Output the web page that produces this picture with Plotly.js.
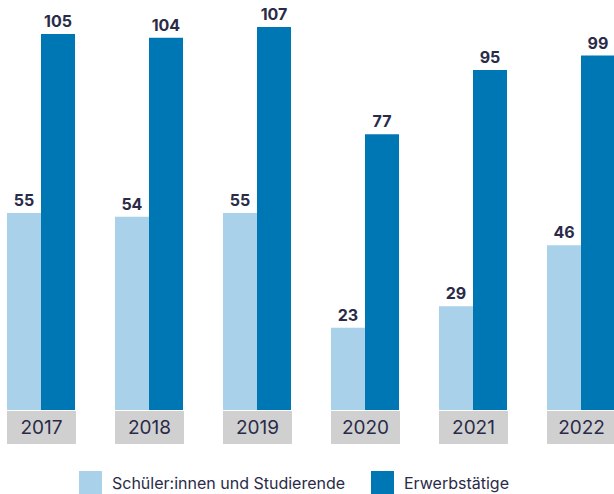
<!DOCTYPE html>
<html>
<head>
<meta charset="utf-8">
<script src="https://cdn.plot.ly/plotly-3.0.1.min.js"></script>
<style>
  html, body { margin: 0; padding: 0; background: #fff; }
  #chart { width: 614px; height: 494px; }
</style>
</head>
<body>
<div id="chart"></div>
<script>
// Data
const years = ['2017', '2018', '2019', '2020', '2021', '2022'];
const students = [55, 54, 55, 23, 29, 46];
const workers = [105, 104, 107, 77, 95, 99];
const seriesNames = ['Schüler:innen und Studierende', 'Erwerbstätige'];

const lightBlue = '#a9d1ea';
const darkBlue = '#0077b5';
const navy = '#2a2b48';
const boxGray = '#d0d0d0';

// plot area is 614 x 410 px, so paper coords are derived from pixels
const W = 614, H = 410;
const px = (x) => x / W;
const py = (y) => (H - y) / H;

function barTrace(name, values, color) {
  return {
    type: 'bar',
    name: name,
    x: years,
    y: values,
    marker: { color: color },
    text: values.map(String),
    textposition: 'outside',
    textfont: { family: 'Inter', size: 16, color: navy, weight: 700 },
    cliponaxis: false,
    hoverinfo: 'skip',
    showlegend: false,
  };
}

// grey year boxes under each group
const yearBoxes = years.map((yr, i) => ({
  x: i, xref: 'x', xanchor: 'center',
  y: py(427), yref: 'paper', yanchor: 'middle',
  text: yr,
  showarrow: false,
  width: 69, height: 33,
  bgcolor: boxGray,
  borderpad: 0,
  borderwidth: 0,
  font: { family: 'Inter', size: 19, color: navy },
}));

// Legend drawn by hand so the swatches can be as large as in the reference
const legendItems = [
  { x0: 79, label: seriesNames[0], color: lightBlue },
  { x0: 371, label: seriesNames[1], color: darkBlue },
];

const legendShapes = legendItems.map((it) => ({
  type: 'rect', xref: 'paper', yref: 'paper',
  x0: px(it.x0), x1: px(it.x0 + 23),
  y0: py(494), y1: py(471),
  fillcolor: it.color, line: { width: 0 },
}));

const legendLabels = legendItems.map((it) => ({
  x: px(it.x0 + 31), xref: 'paper', xanchor: 'left',
  y: py(483), yref: 'paper', yanchor: 'middle',
  text: it.label,
  showarrow: false,
  font: { family: 'Inter', size: 16, color: navy },
}));

const layout = {
  width: 614,
  height: 494,
  margin: { l: 0, r: 0, t: 0, b: 84 },
  paper_bgcolor: '#fff',
  plot_bgcolor: '#fff',
  barmode: 'group',
  bargap: 0.37,
  bargroupgap: 0,
  xaxis: {
    type: 'category',
    range: [-41 / 108, (614 - 41) / 108],
    showticklabels: false,
    showgrid: false,
    zeroline: false,
    showline: false,
    ticks: '',
  },
  yaxis: {
    range: [0, 410 / 3.58],
    visible: false,
    showgrid: false,
    zeroline: false,
  },
  shapes: legendShapes,
  annotations: yearBoxes.concat(legendLabels),
};

Plotly.newPlot('chart', [
  barTrace(seriesNames[0], students, lightBlue),
  barTrace(seriesNames[1], workers, darkBlue),
], layout, { staticPlot: true, displayModeBar: false });
</script>
</body>
</html>
